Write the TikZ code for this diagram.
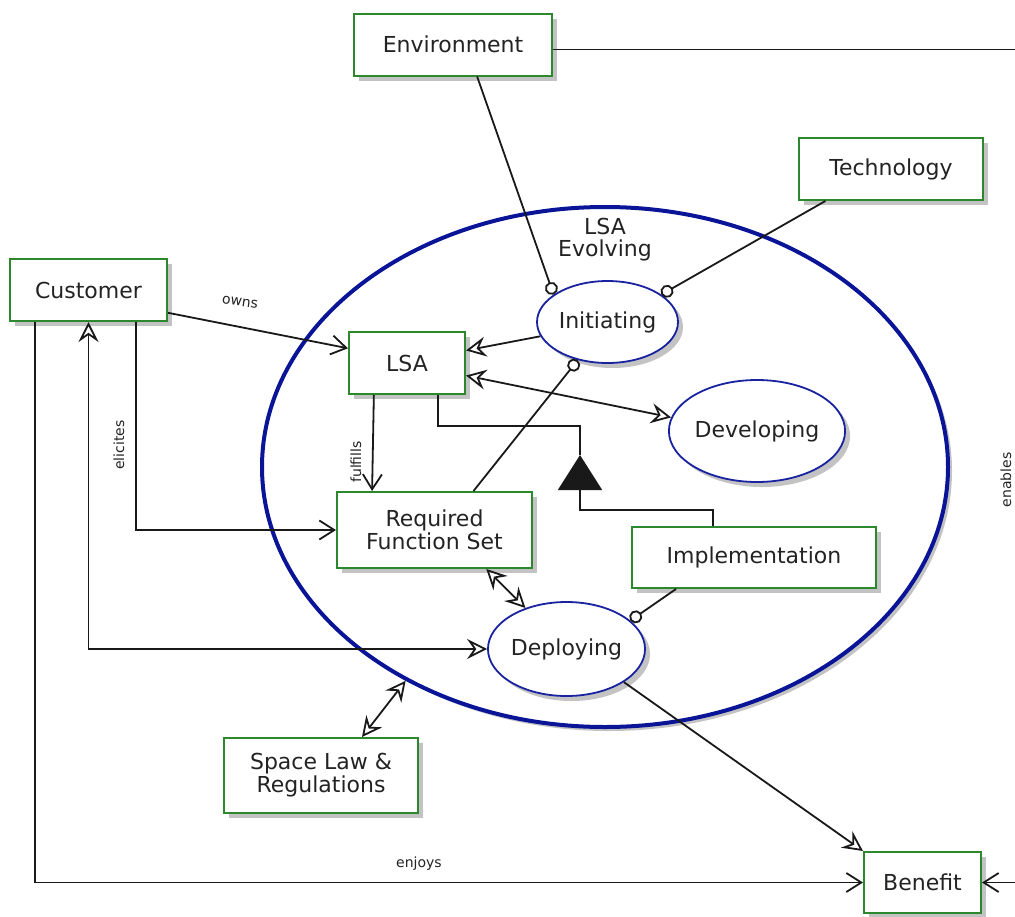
\documentclass[tikz,border=0pt]{standalone}
\usepackage{fontspec}
\setmainfont{DejaVu Sans}
\usetikzlibrary{shapes.geometric,arrows.meta,shadows,calc}
\definecolor{boxgreen}{RGB}{45,135,45}
\definecolor{ellblue}{RGB}{25,35,160}
\definecolor{bigblue}{RGB}{10,20,150}
\definecolor{shadowgray}{RGB}{195,195,195}
\definecolor{txt}{RGB}{35,35,35}
\begin{document}
\begin{tikzpicture}[x=1pt,y=-1pt,
  shd/.style={drop shadow={shadow xshift=5pt,shadow yshift=-5pt,fill=shadowgray,opacity=1}},
  mainfont/.style={font=\fontsize{22}{23}\selectfont,text=txt},
  blk/.style={draw=boxgreen,line width=2pt,fill=white,shd,inner sep=0pt,align=center,mainfont},
  ell/.style={ellipse,draw=ellblue,line width=1.8pt,fill=white,shd,inner sep=0pt,mainfont},
  bigell/.style={ellipse,draw=bigblue,line width=4pt,fill=white,inner sep=0pt,
    drop shadow={shadow xshift=4pt,shadow yshift=-4pt,fill=shadowgray,opacity=1}},
  lbl/.style={font=\fontsize{14}{16}\selectfont,text=txt,inner sep=1pt},
  con/.style={draw=black!90,line width=1.8pt},
  barb/.style={-{Straight Barb[length=15pt,width=19pt]}},
  opn/.style={-{Stealth[open,length=20pt,width=20pt,inset=7pt]}},
  dbl/.style={{Stealth[open,length=20pt,width=20pt,inset=7pt]}-{Stealth[open,length=20pt,width=20pt,inset=7pt]}},
  circ/.style={-{Circle[open,length=13pt]}}
]
\useasboundingbox (0,0) rectangle (1015,916);
\clip (0,0) rectangle (1015,916);

% big ellipse (LSA Evolving)
\node[bigell,minimum width=686pt,minimum height=520pt] (evo) at (605,467) {};
\node[mainfont,align=center,font=\fontsize{22}{22}\selectfont] (evolbl) at (605,240) {LSA\\Evolving};

% boxes
\node[blk,minimum width=157pt,minimum height=62pt] (cust) at (88.5,290) {Customer};
\node[blk,minimum width=198pt,minimum height=62pt] (env) at (453,44.5) {Environment};
\node[blk,minimum width=184pt,minimum height=62pt] (tech) at (891,169) {Technology};
\node[blk,minimum width=116pt,minimum height=62pt] (lsa) at (407,363) {LSA};
\node[blk,minimum width=195pt,minimum height=76pt] (rfs) at (434.5,530) {Required\\Function Set};
\node[blk,minimum width=244pt,minimum height=61pt] (impl) at (754,557.5) {Implementation};
\node[blk,minimum width=194pt,minimum height=75pt] (law) at (321,775.5) {Space Law \&\\Regulations};
\node[blk,minimum width=117pt,minimum height=61pt] (ben) at (922.5,882.5) {Benefit};

% ellipses
\node[ell,minimum width=141pt,minimum height=82pt] (init) at (607.5,322) {Initiating};
\node[ell,minimum width=170pt,minimum height=102pt] (dev) at (757,431) {Developing};
\node[ell,minimum width=157pt,minimum height=94pt] (dep) at (566.5,649) {Deploying};

% connectors
\draw[con,circ] (env.-53) -- (init.153);
\draw[con,circ] (tech.206) -- (init.27);
\draw[con,barb] (cust.-16) -- (lsa.166);
\node[lbl,rotate=-8] (ownsl) at (240,302) {owns};
\draw[con,opn] (init.192) -- (lsa.12);
\draw[con,dbl] (lsa.-12) -- (dev.171);
\draw[con,barb] (lsa.-136) -- (rfs.148);
\node[lbl,rotate=90] (fulfl) at (356,462) {fulfills};
\coordinate (gtip) at (580,455);
\draw[con,-{Triangle[length=35pt,width=44pt]}] ([xshift=-41pt]impl.north) |- ($(gtip)+(0,55)$) -- (gtip);
\draw[con] ([xshift=31pt]lsa.south) -- ++(0,31) -| (gtip);
\draw[con,circ] (rfs.45) -- (init.232);
\draw[con,barb] ([xshift=47.5pt]cust.south) |- (rfs.west);
\node[lbl,rotate=90] (elil) at (119,445) {elicites};
\draw[con,dbl] (cust.south) |- (dep.west);
\draw[con,barb] ([xshift=-53.5pt]cust.south) |- (ben.west);
\node[lbl] (enjl) at (419,864) {enjoys};
\draw[con,dbl] (rfs.-37.5) -- (dep.135);
\draw[con,circ] (impl.202) -- (dep.24);
\draw[con,opn] (dep.-30) -- (ben.north west);
\draw[con,dbl] ([xshift=41pt]law.north) -- (evo.227);
\coordinate (offr1) at (1035,49.5);
\coordinate (offr2) at (1035,882.5);
\draw[con,barb] ([yshift=-5pt]env.east) -- (offr1) -- (offr2) -- (ben.east);
\node[lbl,rotate=90] (enbl) at (1006,480) {enables};
\end{tikzpicture}
\end{document}
